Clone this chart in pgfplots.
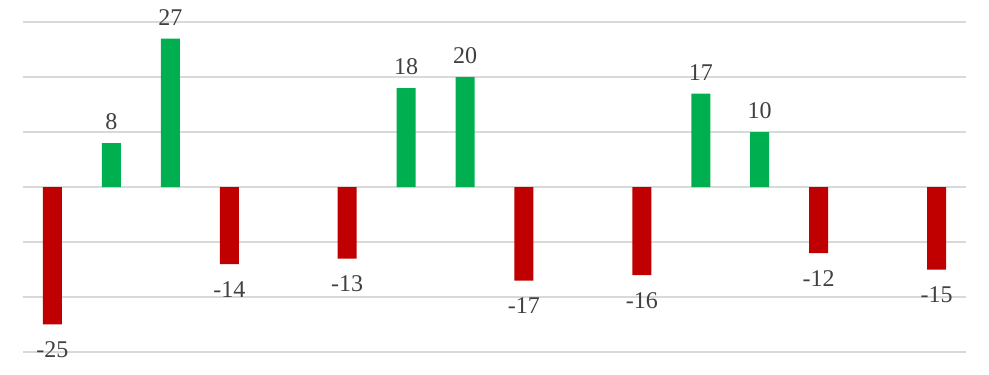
\documentclass[border=0pt]{standalone}
\usepackage{pgfplots}
\pgfplotsset{compat=1.18}
\usepackage{fontspec}
\setmainfont{Liberation Serif}
\definecolor{gr}{HTML}{00B050}
\definecolor{rd}{HTML}{C00000}
\definecolor{gridc}{HTML}{D9D9D9}
\definecolor{lab}{HTML}{404040}
\begin{document}
\begin{tikzpicture}[x=1pt,y=1pt]
\path[use as bounding box] (-23,-23) rectangle (966,352);
\begin{axis}[at={(0,0)},anchor=south west,
  scale only axis, width=943pt, height=330pt,
  xmin=-0.5, xmax=15.5, ymin=-30, ymax=30,
  ytick={-30,-20,...,30}, xtick=\empty, yticklabels={},
  axis line style={draw=none}, major tick length=0pt,
  ymajorgrids, grid style={gridc, line width=1.2pt},
  ybar, bar width=19pt, bar shift=0pt,
  nodes near coords={\pgfmathfloattoint{\pgfplotspointmeta}\pgfmathresult},
  every node near coord/.append style={font=\fontsize{24}{24}\selectfont, text=lab, inner sep=0pt},
  clip=false]
\addplot[fill=gr, draw=none, every node near coord/.append style={anchor=south, yshift=13pt}]
  coordinates {(1,8) (2,27) (6,18) (7,20) (11,17) (12,10)};
\addplot[fill=rd, draw=none, every node near coord/.append style={anchor=north, yshift=-17pt}]
  coordinates {(0,-25) (3,-14) (5,-13) (8,-17) (10,-16) (13,-12) (15,-15)};
\end{axis}
\end{tikzpicture}
\end{document}
